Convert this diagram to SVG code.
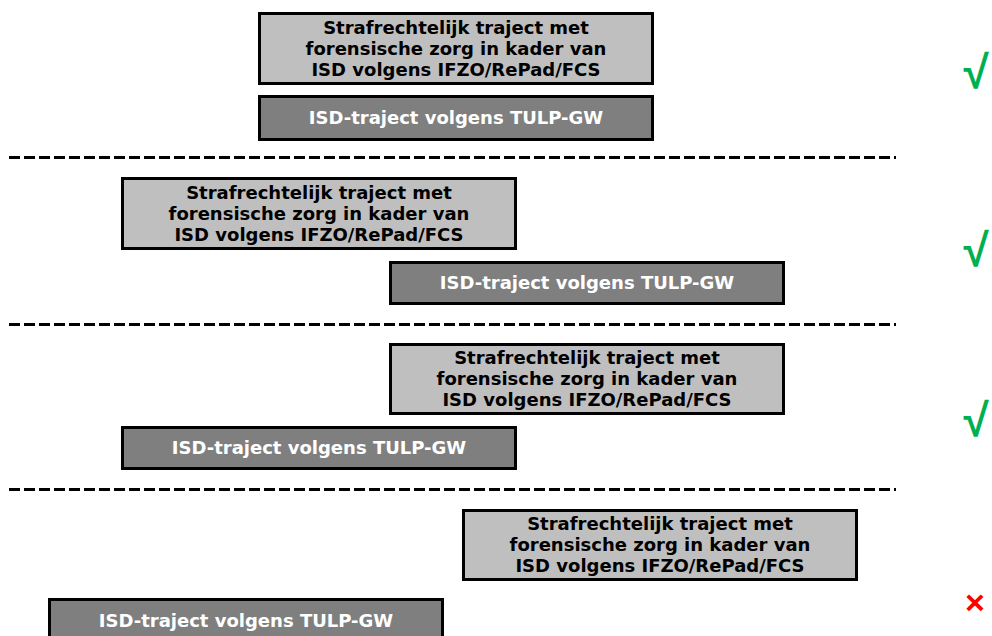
<svg xmlns="http://www.w3.org/2000/svg" width="992" height="636" viewBox="0 0 992 636">
<style>
.light{fill:#bfbfbf;stroke:#000;stroke-width:3}
.dark{fill:#7f7f7f;stroke:#000;stroke-width:3}
.t{font-family:"DejaVu Sans",Verdana,sans-serif;font-weight:bold;font-size:18px;text-anchor:middle}
.tl{fill:#000}
.td{fill:#fff}
.sep{stroke:#000;stroke-width:3;stroke-dasharray:11 4;fill:none}
.ok{font-family:"Liberation Sans",Arial,sans-serif;font-weight:bold;font-size:46px;fill:#00b050;text-anchor:middle}
.no{font-family:"Liberation Sans",Arial,sans-serif;font-weight:bold;font-size:34px;fill:#ff0000;text-anchor:middle}
</style>
<rect width="992" height="636" fill="#fff"/>
<g id="separators">
<line class="sep" x1="9" y1="157.5" x2="896" y2="157.5"/>
<line class="sep" x1="9" y1="324.5" x2="896" y2="324.5"/>
<line class="sep" x1="9" y1="489.5" x2="896" y2="489.5"/>
</g>
<g id="s1-straf">
<rect class="light" x="259.5" y="13.5" width="393" height="70"/>
<text class="t tl" x="456" y="34">Strafrechtelijk traject met</text>
<text class="t tl" x="456" y="55">forensische zorg in kader van</text>
<text class="t tl" x="456" y="76">ISD volgens IFZO/RePad/FCS</text>
</g>
<g id="s1-isd">
<rect class="dark" x="259.5" y="96.5" width="393" height="43"/>
<text class="t td" x="456" y="124">ISD-traject volgens TULP-GW</text>
</g>
<g id="s2-straf">
<rect class="light" x="122.5" y="178.5" width="393" height="70"/>
<text class="t tl" x="319" y="199">Strafrechtelijk traject met</text>
<text class="t tl" x="319" y="220">forensische zorg in kader van</text>
<text class="t tl" x="319" y="241">ISD volgens IFZO/RePad/FCS</text>
</g>
<g id="s2-isd">
<rect class="dark" x="390.5" y="262.5" width="393" height="41"/>
<text class="t td" x="587" y="289">ISD-traject volgens TULP-GW</text>
</g>
<g id="s3-straf">
<rect class="light" x="390.5" y="344.5" width="393" height="69"/>
<text class="t tl" x="587" y="364">Strafrechtelijk traject met</text>
<text class="t tl" x="587" y="385">forensische zorg in kader van</text>
<text class="t tl" x="587" y="406">ISD volgens IFZO/RePad/FCS</text>
</g>
<g id="s3-isd">
<rect class="dark" x="122.5" y="427.5" width="393" height="41"/>
<text class="t td" x="319" y="454">ISD-traject volgens TULP-GW</text>
</g>
<g id="s4-straf">
<rect class="light" x="463.5" y="510.5" width="393" height="69"/>
<text class="t tl" x="660" y="530">Strafrechtelijk traject met</text>
<text class="t tl" x="660" y="551">forensische zorg in kader van</text>
<text class="t tl" x="660" y="572">ISD volgens IFZO/RePad/FCS</text>
</g>
<g id="s4-isd">
<rect class="dark" x="49.5" y="599.5" width="393" height="43"/>
<text class="t td" x="246" y="627">ISD-traject volgens TULP-GW</text>
</g>
<g id="marks">
<text class="ok" x="976" y="88">√</text>
<text class="ok" x="976" y="266">√</text>
<text class="ok" x="976" y="436">√</text>
<text class="no" x="975" y="614">×</text>
</g>
</svg>
